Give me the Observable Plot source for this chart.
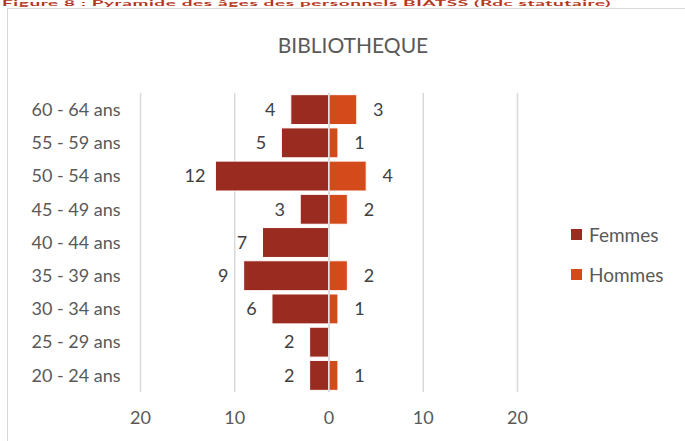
<!DOCTYPE html>
<html>
<head>
<meta charset="utf-8">
<script src="https://cdn.jsdelivr.net/npm/d3@7"></script>
<script src="https://cdn.jsdelivr.net/npm/@observablehq/plot@0.6"></script>
<style>
  html, body { margin: 0; padding: 0; background: #fff; }
  #wrap { position: relative; width: 685px; height: 441px; overflow: hidden; font-family: Lato, "Open Sans", sans-serif; }
  #frame { position: absolute; left: 7px; top: 8px; width: 700px; height: 460px; border: 1px solid #d9d9d9; box-sizing: border-box; }
  #caption { position: absolute; left: 2px; top: 0px; white-space: nowrap; color: #b5371c; font-weight: bold; font-size: 19px; line-height: 19px; transform: scaleY(0.36); transform-origin: top left; letter-spacing: 0.6px; }
  #title { position: absolute; left: 0; width: 706px; top: 32px; text-align: center; color: #595959; font-size: 21px; }
  #chart { position: absolute; left: 0; top: 0; }
  #legend { position: absolute; left: 571px; top: 222px; color: #595959; font-size: 19px; }
  .li { display: flex; align-items: center; height: 24px; margin-bottom: 16px; }
  .sw { width: 11px; height: 11px; margin-right: 7px; }
</style>
</head>
<body>
<div id="wrap">
  <div id="caption">Figure 8 : Pyramide des âges des personnels BIATSS (Rdc statutaire)</div>
  <div id="frame"></div>
  <div id="title">BIBLIOTHEQUE</div>
  <div id="chart"></div>
  <div id="legend"></div>
</div>
<script>
const ageGroups = ["60 - 64 ans","55 - 59 ans","50 - 54 ans","45 - 49 ans","40 - 44 ans","35 - 39 ans","30 - 34 ans","25 - 29 ans","20 - 24 ans"];
const femmes = [4, 5, 12, 3, 7, 9, 6, 2, 2];
const hommes = [3, 1, 4, 2, 0, 2, 1, 0, 1];
const xTicks = [-20, -10, 0, 10, 20];
const seriesNames = ["Femmes", "Hommes"];
const seriesColors = ["#9a2b20", "#d54a1a"];

const fData = ageGroups.map((a, i) => ({age: a, v: femmes[i]}));
const hData = ageGroups.map((a, i) => ({age: a, v: hommes[i]}));

const chart = Plot.plot({
  width: 685,
  height: 441,
  marginLeft: 140,
  marginRight: 168,
  marginTop: 93,
  marginBottom: 49,
  style: {fontFamily: "Lato, 'Open Sans', sans-serif", fontSize: "18px", color: "#595959", background: "transparent"},
  x: {domain: [-20, 20], ticks: xTicks, tickFormat: d => Math.abs(d), tickSize: 0, tickPadding: 19, label: null},
  y: {domain: ageGroups, paddingInner: 0.1, paddingOuter: 0.05, round: false, tickSize: 0, tickPadding: 20, label: null},
  marks: [
    Plot.ruleX(xTicks, {stroke: "#d9d9d9", strokeWidth: 1.5}),
    Plot.barX(fData, {y: "age", x1: d => -d.v, x2: 0, fill: seriesColors[0], stroke: "white", strokeWidth: 1}),
    Plot.barX(hData.filter(d => d.v > 0), {y: "age", x1: 0, x2: d => d.v, fill: seriesColors[1], stroke: "white", strokeWidth: 1}),
    Plot.ruleX([0], {stroke: "#d9d9d9", strokeWidth: 1.5}),
    Plot.text(fData, {y: "age", x: d => -d.v, text: d => String(d.v), dx: -21, fill: "#404040", fontSize: 18}),
    Plot.text(hData.filter(d => d.v > 0), {y: "age", x: d => d.v, text: d => String(d.v), dx: 21, fill: "#404040", fontSize: 18})
  ]
});
document.getElementById("chart").appendChild(chart);

const legend = document.getElementById("legend");
seriesNames.forEach((n, i) => {
  const row = document.createElement("div");
  row.className = "li";
  const sw = document.createElement("div");
  sw.className = "sw";
  sw.style.background = seriesColors[i];
  const t = document.createElement("span");
  t.textContent = n;
  row.appendChild(sw);
  row.appendChild(t);
  legend.appendChild(row);
});
</script>
</body>
</html>
